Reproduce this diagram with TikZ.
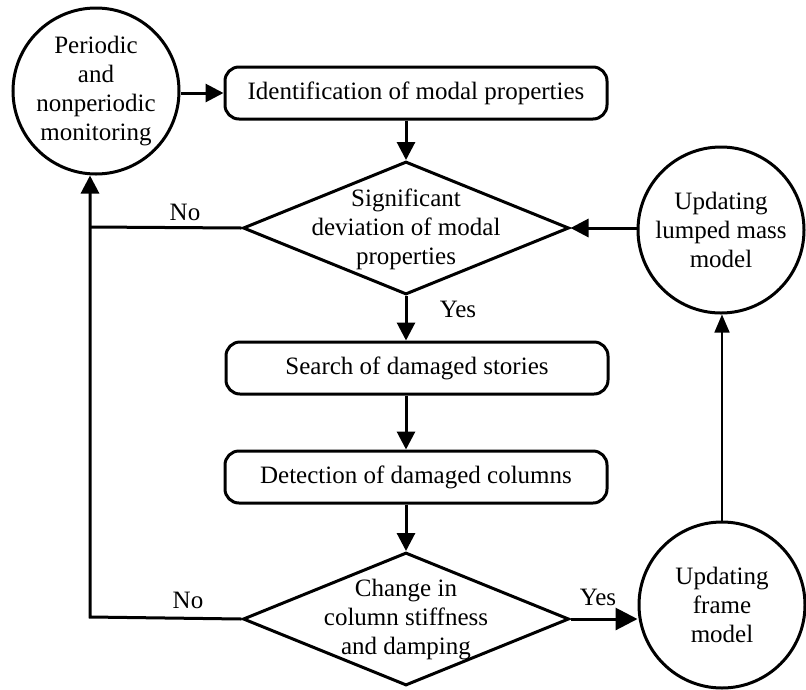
\documentclass[tikz,border=0pt]{standalone}
\usepackage{fontspec}
\setmainfont{Liberation Serif}
\usetikzlibrary{shapes.geometric,arrows.meta}
\begin{document}
\begin{tikzpicture}[x=1pt,y=-1pt,
  every node/.style={font=\fontsize{25}{29}\selectfont},
  line/.style={line width=3pt},
  arr/.style={line width=3pt, -{Triangle[length=18pt,width=18pt]}},
  bigarr/.style={line width=3pt, -{Triangle[length=22pt,width=22pt]}},
  thinarr/.style={line width=1.6pt, -{Triangle[length=18pt,width=15pt]}},
  box/.style={draw, line width=3pt, rounded corners=14pt, minimum width=382pt, minimum height=52pt, inner sep=0pt},
  dec/.style={draw, diamond, line width=3pt, minimum width=326pt, minimum height=133pt, inner sep=0pt},
  circ/.style={draw, circle, line width=3pt, minimum size=166pt, inner sep=0pt, align=center},
  lbl/.style={anchor=base, inner sep=0pt}
]
\useasboundingbox (0,0) rectangle (806,689);

\node[circ] (c1) at (96,91) {Periodic\\and\\nonperiodic\\monitoring};
\node[box] (b1) at (416,93) {Identification of modal properties};
\node[dec] (d1) at (406,228) {};
\node[align=center, inner sep=0pt] (t1) at (406,229) {Significant\\deviation of modal\\properties};
\node[circ] (c2) at (721,230) {Updating\\lumped mass\\model};
\node[box] (b2) at (417,368) {Search of damaged stories};
\node[box] (b3) at (416,477) {Detection of damaged columns};
\node[dec] (d2) at (406,619) {};
\node[align=center, inner sep=0pt] (t2) at (406,620) {Change in\\column stiffness\\and damping};
\node[circ] (c3) at (722,605) {Updating\\frame\\model};
\coordinate (k1) at (90,227);
\coordinate (k2) at (90,617);

\draw[arr] (c1.east |- b1.west) -- (b1.west);
\draw[arr] (b1.south -| d1.north) -- (d1.north);
\draw[arr] (d1.south) -- (d1.south |- b2.north);
\draw[arr] (b2.south -| d1.south) -- (d1.south |- b3.north);
\draw[arr] (b3.south -| d2.north) -- (d2.north);
\draw[arr] (c2.west |- d1.east) -- (d1.east);
\draw[bigarr] (d2.east) -- (d2.east -| c3.west);
\draw[line] (d1.west) -- (k1);
\draw[arr] (d2.west) -- (k2) -- (k2 |- c1.south);
\draw[thinarr] (c3.north) -- (c3.north |- c2.south);

\node[lbl] (no1) at (185,220) {No};
\node[lbl] (no2) at (188,608) {No};
\node[lbl] (yes1) at (458,317) {Yes};
\node[lbl] (yes2) at (598,605) {Yes};
\end{tikzpicture}
\end{document}
